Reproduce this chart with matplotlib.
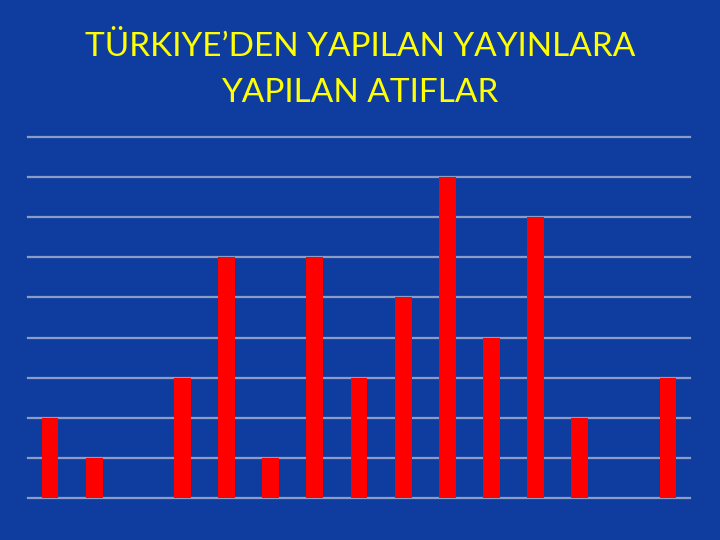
import numpy as np
import matplotlib
matplotlib.use("Agg")
import matplotlib.pyplot as plt

# citations per year (one unit per gridline)
categories = [str(i) for i in range(1, 16)]
values = [2, 1, 0, 3, 6, 1, 6, 3, 5, 8, 4, 7, 2, 0, 3]

bg = '#0F3D9F'

fig = plt.figure(figsize=(7.2, 5.4), dpi=100, facecolor=bg)
ax = fig.add_axes([28 / 720, 1 - 498 / 540, 662 / 720, 361 / 540])
ax.set_facecolor(bg)

x = np.arange(len(categories))
ax.bar(x, values, width=0.38, color='#FF0000', zorder=3)

ax.set_xlim(-0.5, len(categories) - 0.5)
ax.set_ylim(0, 9)
for yv in range(0, 10):
    ax.axhline(yv, color='#8D9CC4', linewidth=1.6, zorder=1, clip_on=False)

ax.set_xticks([])
ax.set_yticks([])
for s in ax.spines.values():
    s.set_visible(False)

fig.text(0.5, 0.94, 'TÜRKIYE’DEN YAPILAN YAYINLARA\nYAPILAN ATIFLAR',
         ha='center', va='top', color='#FFFF00', fontsize=24,
         family=['Lato', 'DejaVu Sans'], linespacing=1.65)

fig.savefig('out.png', dpi=100, facecolor=bg)
